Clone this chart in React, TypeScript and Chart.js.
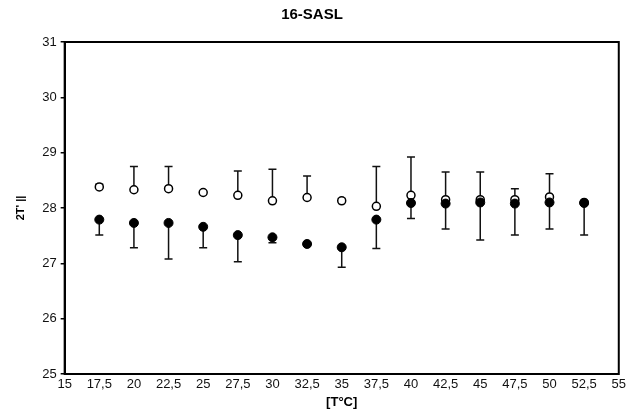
import React, { useEffect, useRef } from "react";
import { Chart, registerables } from "chart.js";

Chart.register(...registerables);

const temps = [17.5, 20, 22.5, 25, 27.5, 30, 32.5, 35, 37.5, 40, 42.5, 45, 47.5, 50, 52.5];
const openValues = [28.38, 28.33, 28.35, 28.28, 28.23, 28.13, 28.19, 28.13, 28.03, 28.23, 28.15, 28.15, 28.15, 28.2, 28.1];
const openErrUp = [0.05, 0.42, 0.4, 0.02, 0.44, 0.57, 0.39, 0.04, 0.72, 0.69, 0.5, 0.5, 0.2, 0.42, 0.02];
const filledValues = [27.79, 27.73, 27.73, 27.66, 27.51, 27.47, 27.35, 27.29, 27.79, 28.09, 28.08, 28.1, 28.08, 28.1, 28.09];
const filledErrDown = [0.28, 0.45, 0.65, 0.38, 0.48, 0.1, 0.0, 0.36, 0.52, 0.28, 0.46, 0.68, 0.57, 0.48, 0.58];
const xTicks = [15, 17.5, 20, 22.5, 25, 27.5, 30, 32.5, 35, 37.5, 40, 42.5, 45, 47.5, 50, 52.5, 55];
const yTicks = [25, 26, 27, 28, 29, 30, 31];

const errorBarPlugin = {
  id: "errorBars",
  beforeDatasetsDraw(chart: any) {
    const ctx = chart.ctx;
    const xs = chart.scales.x;
    const ys = chart.scales.y;
    ctx.save();
    ctx.strokeStyle = "#111";
    ctx.lineWidth = 1.5;
    const cap = 4;
    const drawBar = (x: number, y0: number, y1: number) => {
      const px = xs.getPixelForValue(x);
      const p0 = ys.getPixelForValue(y0);
      const p1 = ys.getPixelForValue(y1);
      if (Math.abs(p1 - p0) < 1) return;
      ctx.beginPath();
      ctx.moveTo(px, p0);
      ctx.lineTo(px, p1);
      ctx.moveTo(px - cap, p1);
      ctx.lineTo(px + cap, p1);
      ctx.stroke();
    };
    temps.forEach((t, i) => {
      drawBar(t, openValues[i], openValues[i] + openErrUp[i]);
      drawBar(t, filledValues[i], filledValues[i] - filledErrDown[i]);
    });
    ctx.restore();
  },
  afterDraw(chart: any) {
    const { ctx, chartArea } = chart;
    ctx.save();
    ctx.strokeStyle = "#000";
    ctx.lineWidth = 2;
    ctx.strokeRect(chartArea.left, chartArea.top, chartArea.right - chartArea.left, chartArea.bottom - chartArea.top);
    ctx.restore();
  },
};

export default function App() {
  const ref = useRef<HTMLCanvasElement>(null);
  useEffect(() => {
    document.body.style.margin = "0";
    const canvas = ref.current!;
    const chart = new Chart(canvas, {
      type: "scatter",
      data: {
        datasets: [
          {
            label: "filled",
            data: temps.map((t, i) => ({ x: t, y: filledValues[i] })),
            pointRadius: 4.5,
            pointBackgroundColor: "#000",
            pointBorderColor: "#000",
            pointBorderWidth: 1,
          },
          {
            label: "open",
            data: temps.map((t, i) => ({ x: t, y: openValues[i] })),
            pointRadius: 4,
            pointBackgroundColor: "#fff",
            pointBorderColor: "#000",
            pointBorderWidth: 1.5,
          },
        ],
      },
      options: {
        animation: false,
        responsive: false,
        layout: { padding: { left: 4, right: 10, top: 0, bottom: 0 } },
        plugins: {
          legend: { display: false },
          tooltip: { enabled: false },
          title: {
            display: true,
            text: "16-SASL",
            color: "#000",
            font: { family: "Liberation Sans, Arial", size: 15, weight: "bold", lineHeight: 1.2 },
            padding: { top: 6, bottom: 18 },
          },
        },
        scales: {
          x: {
            type: "linear",
            min: 15,
            max: 55,
            afterBuildTicks: (axis: any) => {
              axis.ticks = xTicks.map((v) => ({ value: v }));
            },
            ticks: {
              autoSkip: false,
              maxRotation: 0,
              color: "#111",
              font: { family: "Liberation Sans, Arial", size: 13, lineHeight: 1.0 },
              padding: 4,
              callback: (v: any) => String(v).replace(".", ","),
            },
            grid: { display: false, drawTicks: false },
            border: { display: true, color: "#000", width: 2 },
            title: {
              display: true,
              text: "[T°C]",
              color: "#000",
              font: { family: "Liberation Sans, Arial", size: 13, weight: "bold", lineHeight: 1.0 },
              padding: { top: 1, bottom: 0 },
            },
          },
          y: {
            type: "linear",
            min: 25,
            max: 31,
            afterBuildTicks: (axis: any) => {
              axis.ticks = yTicks.map((v) => ({ value: v }));
            },
            ticks: {
              color: "#111",
              font: { family: "Liberation Sans, Arial", size: 13 },
              padding: 4,
            },
            grid: { display: true, drawOnChartArea: false, drawTicks: true, tickLength: 4, color: "#000", lineWidth: 1.5 },
            border: { display: true, color: "#000", width: 2 },
            title: {
              display: true,
              text: "2T' ||",
              color: "#000",
              font: { family: "Liberation Sans, Arial", size: 11, weight: "bold" },
              padding: { top: 10, bottom: 11 },
            },
          },
        },
      },
      plugins: [errorBarPlugin],
    } as any);
    return () => chart.destroy();
  }, []);
  return (
    <div style={{ width: 630, height: 409 }}>
      <canvas ref={ref} width={630} height={409} />
    </div>
  );
}
